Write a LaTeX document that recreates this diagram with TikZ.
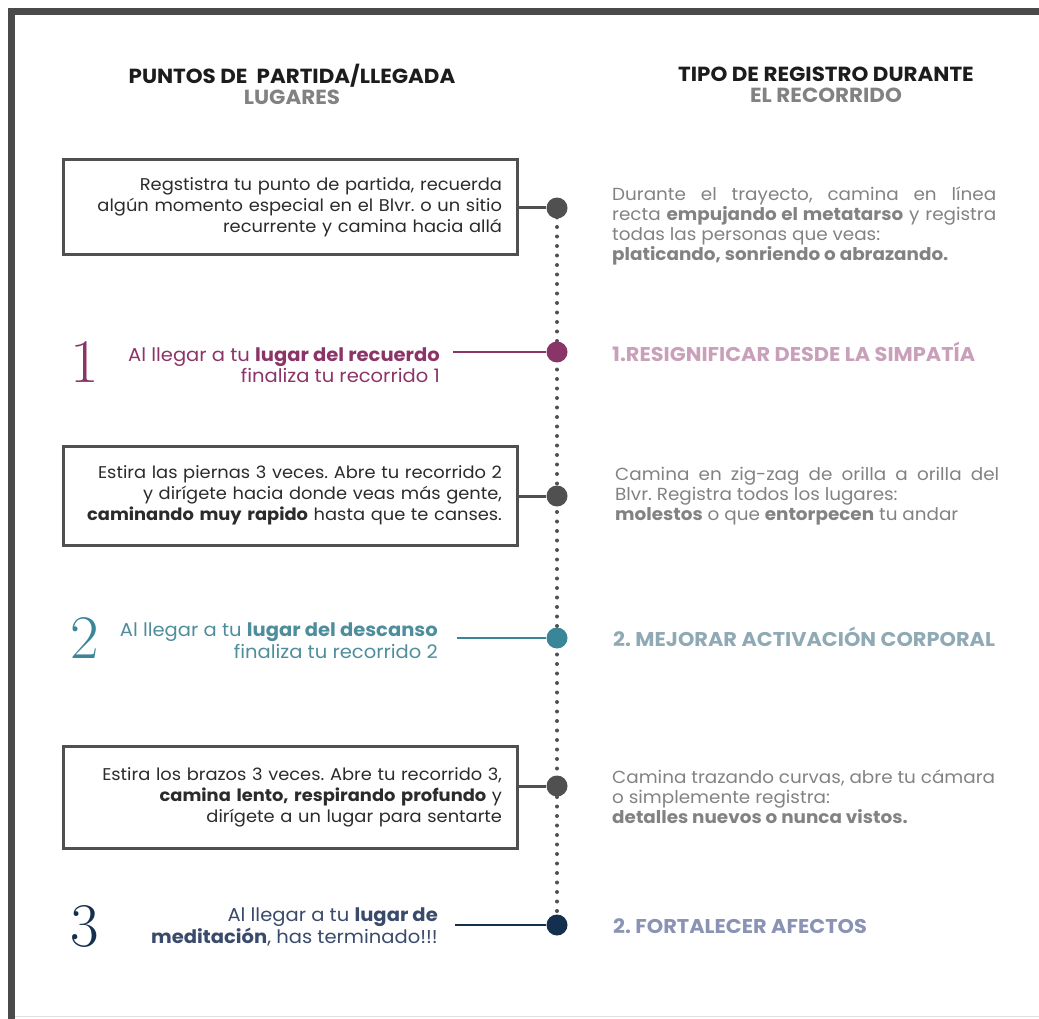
\documentclass[tikz,border=0pt]{standalone}
\usepackage{fontspec}
\setsansfont[FakeStretch=1.05]{Poppins}
\usepackage{tikz}
\usetikzlibrary{positioning,backgrounds}
\definecolor{frame}{HTML}{4A4A4A}
\definecolor{ink}{HTML}{2B2B2B}
\definecolor{headink}{HTML}{1C1C1C}
\definecolor{mute}{HTML}{828282}
\definecolor{dotgray}{HTML}{505050}
\definecolor{plum}{HTML}{8B3468}
\definecolor{plumlt}{HTML}{C9A0BA}
\definecolor{petrol}{HTML}{3A8597}
\definecolor{petroltx}{HTML}{4E8E9C}
\definecolor{petrollt}{HTML}{8FAAB4}
\definecolor{navy}{HTML}{15304F}
\definecolor{navytx}{HTML}{3A4A6B}
\definecolor{navylt}{HTML}{8A93B4}
\frenchspacing

\begin{document}
\begin{tikzpicture}[x=1pt,y=-1pt,font=\sffamily\fontsize{17}{21}\selectfont]
  \tikzstyle{head}=[font=\sffamily\bfseries\fontsize{20.4}{21}\selectfont,align=center,text=headink]
  \tikzstyle{task}=[draw=dotgray,line width=3pt,minimum width=454pt,text width=424pt,
    align=right,text=ink,inner sep=0pt]
  \tikzstyle{stop}=[circle,minimum size=21pt,inner sep=0pt]
  \tikzstyle{arrive}=[align=right,anchor=east,inner ysep=0pt,
    font=\sffamily\fontsize{18.6}{21.5}\selectfont]
  \tikzstyle{numeral}=[font=\rmfamily\fontsize{62}{62}\selectfont]
  \tikzstyle{goal}=[anchor=west,font=\sffamily\bfseries\fontsize{19.9}{20}\selectfont,
    inner sep=0pt,text height=14pt,text depth=0pt]
  \tikzstyle{note}=[anchor=north west,text width=384pt,align=justify,text=mute,inner sep=0pt,
    font=\sffamily\fontsize{17.5}{20}\selectfont]
  \useasboundingbox (0,0) rectangle (1039,1019);
  % frame
  \draw[frame,line width=7pt] (11.5,1019) -- (11.5,11.5) -- (1039,11.5);
  \draw[black!12,line width=1pt] (15,1016.5) -- (1039,1016.5);
  % column heads
  \node[head] (hleft) at (292,84.5) {PUNTOS DE\ \ PARTIDA/LLEGADA\\ \textcolor{mute}{LUGARES}};
  \node[head] (hright) at (826,84.5) {TIPO DE REGISTRO DURANTE\\ \textcolor{mute}{EL RECORRIDO}};
  % stops on the walk
  \node[stop,fill=dotgray] (s0) at (557,208) {};
  \node[stop,fill=plum] (s1) at (557,352) {};
  \node[stop,fill=dotgray] (s2) at (557,496) {};
  \node[stop,fill=petrol] (s3) at (557,638) {};
  \node[stop,fill=dotgray] (s4) at (557,786) {};
  \node[stop,fill=navy] (s5) at (557,925) {};
  \begin{scope}[on background layer]
    \draw[dotgray,line width=4pt,line cap=round,dash pattern=on 0pt off 9.5pt] (s0.center) -- (s5.center);
  \end{scope}
  % instructions
  \node[task,minimum height=95pt] (b1) at (290,207.5) {Regstistra tu punto de partida, recuerda\\
    algún momento especial en el Blvr. o un sitio\\ recurrente y camina hacia allá};
  \node[task,minimum height=99pt] (b2) at (290,495.5) {Estira las piernas 3 veces. Abre tu recorrido 2\\
    y dirígete hacia donde veas más gente,\\ \textbf{caminando muy rapido} hasta que te canses.};
  \node[task,minimum height=102pt] (b3) at (290,797) {Estira los brazos 3 veces. Abre tu recorrido 3,\\
    \textbf{camina lento, respirando profundo} y\\ dirígete a un lugar para sentarte};
  \draw[dotgray,line width=3pt] (b1.east |- s0) -- (s0);
  \draw[dotgray,line width=3pt] (b2.east |- s2) -- (s2);
  \draw[dotgray,line width=3pt] (b3.east |- s4) -- (s4);
  % arrivals
  \node[numeral,text=plum] (n1) at (85,362) {1};
  \node[numeral,text=petrol] (n2) at (85,638) {2};
  \node[numeral,text=navy] (n3) at (85,926) {3};
  \node[arrive,text=plum,inner xsep=13pt] (a1) at (453,365)
    {Al llegar a tu \textbf{lugar del recuerdo}\\ finaliza tu recorrido 1};
  \node[arrive,text=petroltx,inner xsep=19pt] (a2) at (457,640.5)
    {Al llegar a tu \textbf{lugar del descanso}\\ finaliza tu recorrido 2};
  \node[arrive,text=navytx,inner xsep=17pt] (a3) at (455,927)
    {Al llegar a tu \textbf{lugar de}\\ \textbf{meditación}, has terminado!!!};
  \draw[plum,line width=2pt] (a1.east |- s1) -- (s1);
  \draw[petrol,line width=2pt] (a2.east |- s3) -- (s3);
  \draw[navy,line width=2pt] (a3.east |- s5) -- (s5);
  % kind of record
  \node[note] (r1) at (612,187) {Durante el trayecto, camina en línea\linebreak
    recta \textbf{empujando el metatarso} y registra\linebreak todas las personas que veas:\\
    \textbf{platicando, sonriendo o abrazando.}};
  \node[note] (r2) at (615,467) {Camina en zig-zag de orilla a orilla del\linebreak
    Blvr. Registra todos los lugares:\\ \textbf{molestos} o que \textbf{entorpecen} tu andar};
  \node[note] (r3) at (612,770) {Camina trazando curvas, abre tu cámara\\
    o simplemente registra:\\ \textbf{detalles nuevos o nunca vistos.}};
  \node[goal,text=plumlt] (g1) at (612,354) {1.RESIGNIFICAR DESDE LA SIMPATÍA};
  \node[goal,text=petrollt] (g2) at (613,639) {2. MEJORAR ACTIVACIÓN CORPORAL};
  \node[goal,text=navylt] (g3) at (613,926) {2. FORTALECER AFECTOS};
\end{tikzpicture}
\end{document}
